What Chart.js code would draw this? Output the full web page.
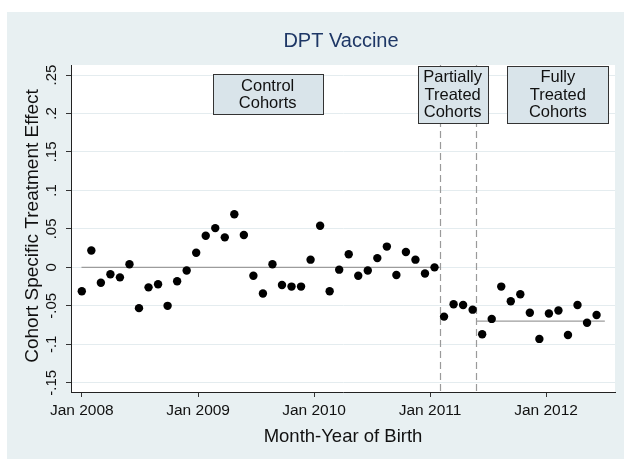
<!DOCTYPE html>
<html>
<head>
<meta charset="utf-8">
<script src="https://cdn.jsdelivr.net/npm/chart.js@4.4.1/dist/chart.umd.min.js"></script>
<style>
  body { margin: 0; background: #fff; }
  canvas { display: block; }
</style>
</head>
<body>
<canvas id="dptChart" width="624" height="459"></canvas>
<script>
// cohorts: days since 1 Jan 2008 (one cohort every 30 days)
var cohortDays = [0, 30, 60, 90, 120, 150, 180, 210, 240, 270, 300, 330, 360, 390, 420, 450, 480, 510,
    540, 570, 600, 630, 660, 690, 720, 750, 780, 810, 840, 870, 900, 930, 960, 990, 1020, 1050,
    1080, 1110, 1140, 1170, 1200, 1230, 1260, 1290, 1320, 1350, 1380, 1410, 1440, 1470, 1500, 1530,
    1560, 1590, 1620];
var effects = [-0.031, 0.022, -0.020, -0.009, -0.013, 0.004, -0.053, -0.026, -0.022, -0.050, -0.018, -0.004,
    0.019, 0.041, 0.051, 0.039, 0.069, 0.042, -0.011, -0.034, 0.004, -0.023, -0.025, -0.025,
    0.010, 0.054, -0.031, -0.003, 0.017, -0.011, -0.004, 0.012, 0.027, -0.010, 0.020, 0.010,
    -0.008, 0.000, -0.064, -0.048, -0.049, -0.055, -0.087, -0.067, -0.025, -0.044, -0.035, -0.059,
    -0.093, -0.060, -0.056, -0.088, -0.049, -0.072, -0.062];

// group means (start day, end day, value)
var controlMean = [-1, 1127, 0];
var fullMean = [1242, 1646, -0.07];
var cutoffDays = [1127, 1242];

var xTickDays = [0, 366, 731, 1096, 1461];
var xTickLabels = ['Jan 2008', 'Jan 2009', 'Jan 2010', 'Jan 2011', 'Jan 2012'];
var yTicks = [-0.15, -0.1, -0.05, 0, 0.05, 0.1, 0.15, 0.2, 0.25];
var yTickLabels = ['-.15', '-.1', '-.05', '0', '.05', '.1', '.15', '.2', '.25'];

// group labels: lines, anchor day, anchor value
var groupLabels = [
    { lines: ['Control', 'Cohorts'], day: 585, value: 0.225, w: 110, h: 40 },
    { lines: ['Partially', 'Treated', 'Cohorts'], day: 1167, value: 0.225, w: 70, h: 57 },
    { lines: ['Fully', 'Treated', 'Cohorts'], day: 1498, value: 0.225, w: 101, h: 57 }
];

var FONT = '"Liberation Sans", Arial, Helvetica, sans-serif';
var BG = '#e8f0f2';

var points = cohortDays.map(function(d, i) { return { x: d, y: effects[i] }; });

var framePlugin = {
    id: 'frame',
    beforeDraw: function(chart) {
        var ctx = chart.ctx, a = chart.chartArea;
        ctx.save();
        ctx.fillStyle = '#fff';
        ctx.fillRect(0, 0, chart.width, chart.height);
        ctx.fillStyle = BG;
        ctx.fillRect(7, 12, chart.width - 7, chart.height - 12);
        ctx.fillStyle = '#fff';
        ctx.fillRect(a.left, a.top, a.right - a.left, a.bottom - a.top);
        ctx.restore();
    },
    beforeDatasetsDraw: function(chart) {
        var ctx = chart.ctx, a = chart.chartArea, x = chart.scales.x;
        ctx.save();
        ctx.strokeStyle = '#9a9a9a';
        ctx.lineWidth = 1.2;
        ctx.setLineDash([7, 4]);
        cutoffDays.forEach(function(d) {
            var px = Math.round(x.getPixelForValue(d)) + 0.5;
            ctx.beginPath();
            ctx.moveTo(px, a.top);
            ctx.lineTo(px, a.bottom);
            ctx.stroke();
        });
        ctx.restore();
    },
    afterDraw: function(chart) {
        var ctx = chart.ctx, a = chart.chartArea, x = chart.scales.x, y = chart.scales.y;
        ctx.save();
        // title
        ctx.fillStyle = '#1e3766';
        ctx.font = '20px ' + FONT;
        ctx.textAlign = 'center';
        ctx.textBaseline = 'middle';
        ctx.fillText('DPT Vaccine', (a.left + a.right) / 2 - 2, 41);

        // axis titles
        ctx.fillStyle = '#111';
        ctx.font = '18.5px ' + FONT;
        ctx.fillText('Month-Year of Birth', (a.left + a.right) / 2, 437);
        ctx.save();
        ctx.translate(33, 226);
        ctx.rotate(-Math.PI / 2);
        ctx.font = '19px ' + FONT;
        ctx.fillText('Cohort Specific Treatment Effect', 0, 0);
        ctx.restore();

        // y tick labels, rotated
        ctx.font = '15px ' + FONT;
        yTicks.forEach(function(v, i) {
            ctx.save();
            ctx.translate(52, y.getPixelForValue(v));
            ctx.rotate(-Math.PI / 2);
            ctx.fillText(yTickLabels[i], 0, 0);
            ctx.restore();
        });

        // group label boxes
        groupLabels.forEach(function(g) {
            var cx = x.getPixelForValue(g.day), cy = y.getPixelForValue(g.value);
            var left = Math.round(cx - g.w / 2) + 0.5, top = Math.round(cy - g.h / 2) + 0.5;
            ctx.fillStyle = '#d9e4ea';
            ctx.fillRect(left, top, g.w, g.h);
            ctx.strokeStyle = '#333';
            ctx.lineWidth = 1;
            ctx.strokeRect(left, top, g.w, g.h);
            ctx.fillStyle = '#111';
            ctx.font = '16.5px ' + FONT;
            var lh = 17.3;
            g.lines.forEach(function(t, k) {
                ctx.fillText(t, cx, cy + (k - (g.lines.length - 1) / 2) * lh + 1);
            });
        });
        ctx.restore();
    }
};

var chart = new Chart(document.getElementById('dptChart'), {
    type: 'scatter',
    data: {
        datasets: [{
            data: points,
            pointRadius: 4.2,
            pointBackgroundColor: '#000',
            pointBorderWidth: 0,
            order: 0
        }, {
            data: [{ x: controlMean[0], y: controlMean[2] }, { x: controlMean[1], y: controlMean[2] }],
            showLine: true,
            borderColor: '#9c9c9c',
            borderWidth: 1.3,
            pointRadius: 0,
            order: 1
        }, {
            data: [{ x: fullMean[0], y: fullMean[2] }, { x: fullMean[1], y: fullMean[2] }],
            showLine: true,
            borderColor: '#9c9c9c',
            borderWidth: 1.3,
            pointRadius: 0,
            order: 1
        }]
    },
    options: {
        responsive: false,
        animation: false,
        layout: { padding: { top: 65, right: 9, bottom: 0, left: 0 } },
        plugins: {
            legend: { display: false },
            tooltip: { enabled: false }
        },
        scales: {
            x: {
                type: 'linear',
                min: -34,
                max: 1678,
                afterBuildTicks: function(s) { s.ticks = xTickDays.map(function(v) { return { value: v }; }); },
                afterFit: function(s) { s.height = 67; },
                grid: { drawOnChartArea: false, tickLength: 5, tickColor: '#333' },
                border: { color: '#222', width: 1 },
                ticks: {
                    maxRotation: 0,
                    autoSkip: false,
                    padding: 4,
                    color: '#111',
                    font: { size: 15.5, family: FONT },
                    callback: function(v) { return xTickLabels[xTickDays.indexOf(v)]; }
                }
            },
            y: {
                min: -0.162,
                max: 0.263,
                afterBuildTicks: function(s) { s.ticks = yTicks.map(function(v) { return { value: v }; }); },
                afterFit: function(s) { s.width = 71; },
                grid: { color: '#e4ecef', lineWidth: 1, tickLength: 5, tickColor: '#333' },
                border: { color: '#222', width: 1 },
                ticks: { display: false }
            }
        }
    },
    plugins: [framePlugin]
});
</script>
</body>
</html>
